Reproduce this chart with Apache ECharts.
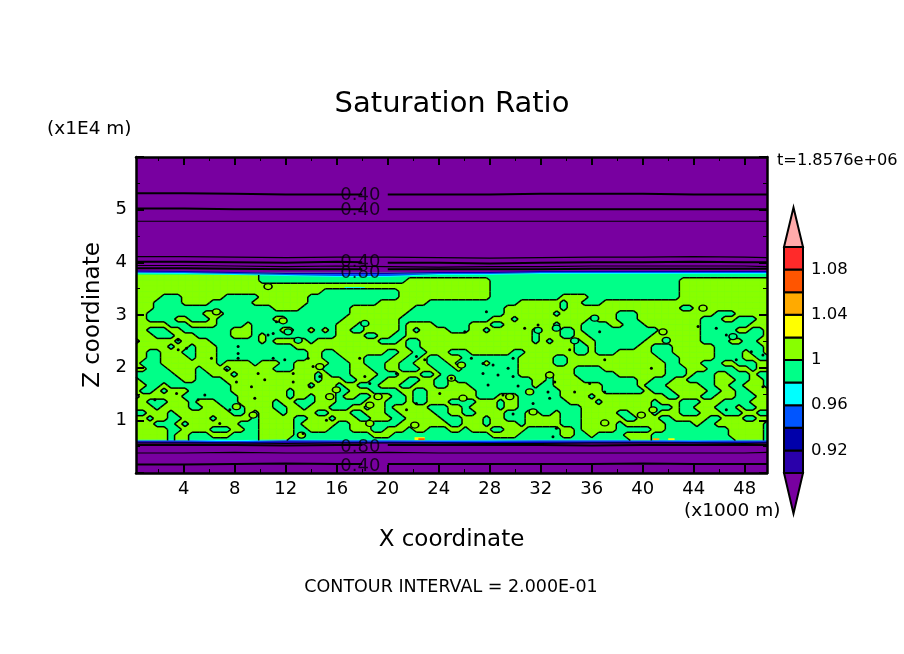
<!DOCTYPE html>
<html>
<head>
<meta charset="utf-8">
<title>Saturation Ratio</title>
<script src="https://cdn.jsdelivr.net/npm/echarts@6/dist/echarts.min.js"></script>
<style>
html, body { margin: 0; padding: 0; background: #fff; }
#chart { width: 904px; height: 654px; }
</style>
</head>
<body>
<div id="chart"></div>
<script>
// axis values
const xMajorTicks = [4, 8, 12, 16, 20, 24, 28, 32, 36, 40, 44, 48];
const xMinorTicks = [2, 6, 10, 14, 18, 22, 26, 30, 34, 38, 42, 46];
const xRange = [0.25, 49.75];
const zRange = [0, 6];

// colour bar
const levelEdges = [0.90, 0.92, 0.94, 0.96, 0.98, 1.00, 1.02, 1.04, 1.06, 1.08, 1.10];
const levelColors = ['#2a00aa', '#0000aa', '#0055ff', '#00ffff', '#00ff88', '#88ff00', '#ffff00', '#ffaa00', '#ff5500', '#ff2a2a'];
const colorbarLabels = [0.92, 0.96, 1, 1.04, 1.08];
const underColor = '#7800a0';
const overColor = '#ffaaaa';
const overTip = 1.135;
const underTip = 0.864;

// the wet layer: each row reads alternately cells above 1 and cells below 1, left to right, top to bottom
const fieldTopZ = 3.76;
const fieldBottomZ = 0.617;
const fieldCols = 90;
const fieldRuns = [
    [18, 73],
    [18, 21, 12, 27, 13],
    [51, 27, 13],
    [27, 11, 13, 27, 13],
    [4, 3, 6, 5, 7, 13, 13, 10, 4, 13, 13],
    [3, 4, 4, 6, 8, 10, 7, 13, 6, 1, 2, 3, 24],
    [3, 17, 4, 7, 9, 13, 8, 1, 16, 2, 11],
    [2, 8, 3, 18, 8, 14, 7, 1, 8, 3, 11, 3, 5],
    [2, 4, 2, 3, 1, 8, 2, 8, 8, 13, 3, 1, 10, 1, 3, 3, 9, 3, 2, 3, 2],
    [5, 3, 4, 4, 1, 12, 3, 1, 5, 1, 4, 5, 3, 2, 7, 1, 3, 4, 2, 3, 8, 7, 3],
    [2, 3, 2, 7, 3, 4, 2, 2, 1, 1, 1, 1, 2, 2, 5, 1, 1, 1, 4, 3, 2, 1, 6, 1, 3, 2, 1, 11, 6, 5, 2, 2, 1],
    [3, 3, 3, 5, 3, 1, 1, 10, 4, 2, 2, 2, 18, 1, 3, 2, 2, 9, 7, 9, 1],
    [0, 1, 5, 1, 4, 7, 1, 1, 5, 1, 9, 3, 1, 2, 16, 1, 1, 1, 3, 1, 2, 7, 8, 4, 2, 2, 2],
    [5, 1, 2, 1, 3, 11, 16, 2, 22, 2, 1, 6, 2, 3, 6, 7, 1],
    [2, 2, 3, 2, 3, 13, 2, 2, 7, 2, 2, 2, 3, 3, 6, 2, 7, 2, 1, 3, 5, 3, 6, 4, 1, 2, 1],
    [2, 2, 4, 1, 3, 13, 2, 3, 3, 4, 2, 2, 1, 2, 3, 8, 5, 2, 13, 3, 5, 4, 2, 2],
    [1, 3, 8, 1, 4, 1, 3, 2, 5, 3, 2, 3, 2, 2, 2, 3, 1, 4, 1, 4, 5, 2, 14, 2, 3, 3, 2, 3, 2],
    [2, 3, 4, 1, 3, 1, 6, 3, 4, 4, 3, 2, 2, 3, 2, 3, 1, 8, 8, 4, 9, 3, 3, 4, 2, 1, 2],
    [0, 6, 3, 2, 3, 1, 11, 1, 1, 3, 4, 3, 3, 2, 1, 11, 4, 1, 3, 6, 7, 3, 1, 3, 2, 3, 1, 2],
    [1, 6, 2, 4, 13, 1, 3, 2, 2, 2, 3, 2, 2, 2, 1, 11, 2, 1, 4, 8, 2, 3, 2, 4, 3, 2, 2, 1],
    [2, 2, 1, 9, 11, 1, 3, 1, 2, 3, 3, 2, 3, 2, 3, 9, 1, 2, 7, 5, 1, 3, 5, 2, 2, 2, 3, 1],
    [1, 2, 1, 1, 3, 6, 8, 1, 6, 2, 3, 4, 2, 2, 7, 12, 6, 6, 1, 3, 5, 2, 2, 2, 3],
    [0, 1, 6, 8, 7, 1, 2, 1, 3, 1, 2, 2, 3, 2, 1, 2, 7, 3, 3, 6, 4, 1, 10, 2, 3, 2, 3, 3, 2],
    [2, 3, 3, 1, 3, 3, 5, 1, 2, 3, 3, 4, 3, 3, 1, 2, 3, 4, 3, 1, 2, 7, 4, 1, 7, 1, 3, 3, 3, 4, 3],
    [3, 1, 4, 2, 3, 3, 4, 2, 2, 1, 3, 3, 2, 1, 2, 1, 5, 3, 2, 1, 4, 1, 2, 9, 10, 3, 1, 2, 3, 3, 1, 2, 2],
    [0, 2, 3, 1, 8, 2, 1, 1, 3, 1, 4, 2, 3, 2, 3, 2, 5, 2, 2, 2, 4, 3, 2, 2, 1, 3, 5, 2, 3, 1, 3, 3, 3, 3, 2, 2],
    [2, 1, 2, 2, 4, 1, 5, 1, 5, 2, 3, 1, 3, 2, 3, 2, 5, 3, 3, 1, 2, 3, 5, 3, 6, 2, 3, 2, 5, 2, 3, 2, 2],
    [3, 3, 1, 1, 7, 3, 5, 1, 5, 2, 3, 4, 7, 2, 3, 1, 4, 1, 5, 3, 5, 1, 6, 4, 1, 2, 7, 1],
    [5, 2, 4, 3, 2, 2, 5, 2, 3, 3, 3, 2, 3, 1, 2, 3, 2, 1, 3, 2, 3, 5, 2, 1, 5, 5, 2, 9, 5, 1],
    [5, 1, 2, 3, 3, 4, 5, 11, 3, 14, 4, 6, 2, 2, 1, 4, 4, 11, 5, 1],
    [5, 1, 2, 10, 4, 49, 3, 12, 4, 1]
];

// tiny closed contours too small for the field rows
const dotX = [3.56, 4.21, 8.26, 8.26, 3.56, 11.01, 10.61, 9.83, 7.35, 10.35, 9.31, 8.13, 6.17, 12.58, 12.58, 13.88, 18.59, 18.2, 17.8, 8.26, 14.14, 13.75, 14.67, 9.57, 7.61, 21.47, 22.25, 22.25, 22.9, 5.12, 1.73, 3.43, 5.65, 15.19, 13.36, 6.82, 24.99, 24.08, 20.68, 11.01, 11.92, 11.27,
    27.74, 31.79, 30.74, 26.04, 26.56, 28.26, 29.44, 29.83, 27.47, 28.65, 27.87, 30.22, 29.04, 32.57, 32.7, 31.4, 29.83, 33.23, 32.96, 37.02, 36.62, 34.27, 33.1, 34.66, 35.84, 37.02, 40.68, 44.34, 45.77, 46.56, 48.52, 49.43, 47.34, 49.43, 46.56, 29.83, 27.47];
const dotZ = [2.525, 2.37, 2.4, 2.27, 2.34, 2.65, 2.62, 1.89, 1.96, 1.77, 1.64, 1.73, 2.18, 1.89, 1.73, 1.64, 1.7, 1.83, 2.18, 2.18, 2.02, 2.18, 1.83, 1.42, 1.2, 1.2, 1.32, 2.21, 2.15, 1.39, 1.39, 1.51, 1.48, 1.0, 0.75, 0.94, 1.8, 1.51, 1.89, 2.18, 2.15, 2.87,
    3.06, 2.81, 2.75, 2.68, 2.18, 2.05, 1.99, 1.83, 2.08, 1.86, 1.67, 1.65, 1.48, 1.54, 1.42, 1.32, 1.12, 0.85, 0.69, 2.15, 2.68, 2.34, 1.73, 1.54, 1.7, 1.54, 1.99, 2.78, 2.75, 2.62, 2.3, 2.24, 2.15, 1.64, 1.2, 2.18, 1.89];
const limeBlobX = [11.79, 6.56, 10.61, 14.67, 15.97, 13.23, 18.59, 18.59, 19.24, 22.12, 15.45, 9.44, 8.13, 25.78, 24.99, 32.7, 31.13, 29.57, 25.9, 31.4, 37.02, 39.89, 40.81, 41.59, 44.73];
const limeBlobZ = [2.89, 3.06, 3.54, 2.02, 1.58, 0.72, 1.29, 0.94, 1.45, 0.91, 1.45, 1.1, 1.26, 2.05, 1.8, 1.86, 1.54, 1.45, 1.42, 1.16, 0.95, 1.1, 1.2, 2.68, 3.13];
const springBlobX = [12.97, 12.18, 18.2, 31.79, 33.23, 34.66, 36.23, 41.85, 47.08];
const springBlobZ = [2.52, 2.68, 2.84, 2.71, 2.75, 2.51, 2.94, 2.52, 2.59];

// thin colour steps at the top and bottom of the wet layer
const bandX = [0.25, 4, 8, 12, 16, 20, 24, 28, 32, 36, 40, 44, 48, 49.75];
const topIndigoZ = [3.845, 3.835, 3.816, 3.797, 3.797, 3.797, 3.816, 3.816, 3.835, 3.835, 3.835, 3.835, 3.835, 3.835];
const topBlueZ = [3.826, 3.816, 3.797, 3.778, 3.778, 3.778, 3.797, 3.797, 3.816, 3.816, 3.816, 3.816, 3.816, 3.816];
const topCyanZ = [3.807, 3.797, 3.778, 3.759, 3.74, 3.74, 3.778, 3.778, 3.797, 3.797, 3.797, 3.797, 3.797, 3.797];
const topGreenZ = [3.787, 3.777, 3.758, 3.739, 3.72, 3.72, 3.758, 3.758, 3.777, 3.777, 3.777, 3.777, 3.777, 3.777];
const bottomGreenZ = [0.63, 0.63, 0.625, 0.635, 0.63, 0.63, 0.625, 0.625, 0.63, 0.63, 0.63, 0.625, 0.63, 0.63];
const bottomCyanZ = [0.615, 0.615, 0.605, 0.62, 0.615, 0.615, 0.61, 0.61, 0.615, 0.615, 0.615, 0.61, 0.615, 0.615];
const bottomBlueZ = [0.6, 0.595, 0.585, 0.6, 0.595, 0.595, 0.59, 0.59, 0.595, 0.595, 0.595, 0.59, 0.595, 0.595];
const bottomIndigoZ = [0.575, 0.57, 0.56, 0.575, 0.57, 0.57, 0.565, 0.565, 0.57, 0.57, 0.57, 0.565, 0.57, 0.57];

// small spots away from the two main levels
const spotStartX = [22.1, 22.4, 40.8, 42, 16.6];
const spotEndX = [22.9, 22.9, 41.3, 42.5, 18.2];
const spotTopZ = [0.68, 0.66, 0.66, 0.66, 3.53];
const spotBottomZ = [0.625, 0.625, 0.625, 0.625, 3.49];
const spotLevel = [6, 8, 7, 6, 3];

// horizontal contours in the dry air above and below
const contourX = [0.25, 4, 8, 12, 16, 20, 24, 28, 32, 36, 40, 44, 48, 49.75];
const contourLines = [
    [5.31, 5.3, 5.29, 5.29, 5.29, 5.29, 5.29, 5.3, 5.3, 5.3, 5.29, 5.29, 5.29, 5.29],
    [5.02, 5.01, 5.01, 5.01, 5.01, 5.01, 5.01, 5.01, 5.01, 5.01, 5.01, 5.01, 5.01, 5.01],
    [4.78, 4.78, 4.78, 4.78, 4.78, 4.78, 4.78, 4.78, 4.78, 4.78, 4.78, 4.78, 4.78, 4.78],
    [4.11, 4.1, 4.09, 4.1, 4.1, 4.09, 4.08, 4.09, 4.1, 4.1, 4.11, 4.1, 4.09, 4.1],
    [4.01, 4, 3.99, 4.01, 4, 3.99, 3.98, 3.99, 4, 4, 4.01, 4, 4, 4],
    [3.94, 3.93, 3.92, 3.93, 3.92, 3.91, 3.92, 3.92, 3.93, 3.93, 3.93, 3.93, 3.92, 3.93],
    [3.89, 3.88, 3.87, 3.87, 3.87, 3.87, 3.87, 3.87, 3.88, 3.88, 3.88, 3.88, 3.88, 3.88],
    [0.57, 0.57, 0.56, 0.57, 0.57, 0.57, 0.56, 0.56, 0.57, 0.57, 0.57, 0.56, 0.57, 0.57],
    [0.53, 0.53, 0.52, 0.53, 0.53, 0.53, 0.53, 0.53, 0.52, 0.53, 0.53, 0.53, 0.53, 0.53],
    [0.38, 0.39, 0.38, 0.38, 0.39, 0.38, 0.38, 0.38, 0.38, 0.38, 0.38, 0.38, 0.39, 0.38],
    [0.16, 0.17, 0.18, 0.17, 0.17, 0.17, 0.17, 0.17, 0.17, 0.18, 0.17, 0.17, 0.17, 0.17]
];
const contourHeavy = [true, true, false, false, true, false, true, false, true, false, true];
const contourLabelZ = [5.28, 4.99, 4.0, 3.8, 0.49, 0.12];
const contourLabelText = ['0.40', '0.40', '0.40', '0.80', '0.80', '0.40'];
const contourLabelX = 17.85;

// node values of the wet layer, expanded from the runs
function buildField() {
    let field = [];
    fieldRuns.forEach(function (runs) {
        let row = [];
        runs.forEach(function (len, i) {
            for (let k = 0; k < len; k++) row.push(i % 2 == 0 ? 1.01 : 0.99);
        });
        while (row.length <= fieldCols) row.push(row[row.length - 1]);
        field.push(row);
    });
    return field;
}

const field = buildField();
const fieldRows = field.length - 1;
const cells = [];
for (let r = 0; r < fieldRows; r++) {
    for (let c = 0; c < fieldCols; c++) cells.push([c, r]);
}

function nodeX(c) {
    return xRange[0] + c * (xRange[1] - xRange[0]) / fieldCols;
}
function nodeZ(r) {
    return fieldTopZ - r * (fieldTopZ - fieldBottomZ) / fieldRows;
}

// marching squares on one cell, returns corners in screen coordinates
function cellShape(api) {
    let c = api.value(0), r = api.value(1);
    let a = field[r][c] > 1, b = field[r][c + 1] > 1, d = field[r + 1][c + 1] > 1, e = field[r + 1][c] > 1;
    let x0 = nodeX(c), x1 = nodeX(c + 1), xm = (x0 + x1) / 2;
    let z0 = nodeZ(r), z1 = nodeZ(r + 1), zm = (z0 + z1) / 2;
    return {
        a: a, b: b, d: d, e: e,
        tl: api.coord([x0, z0]), tr: api.coord([x1, z0]), br: api.coord([x1, z1]), bl: api.coord([x0, z1]),
        t: api.coord([xm, z0]), rr: api.coord([x1, zm]), bt: api.coord([xm, z1]), l: api.coord([x0, zm])
    };
}

function renderLimeCell(params, api) {
    let s = cellShape(api);
    let pts = [];
    if (s.a) pts.push(s.tl);
    if (s.a != s.b) pts.push(s.t);
    if (s.b) pts.push(s.tr);
    if (s.b != s.d) pts.push(s.rr);
    if (s.d) pts.push(s.br);
    if (s.d != s.e) pts.push(s.bt);
    if (s.e) pts.push(s.bl);
    if (s.e != s.a) pts.push(s.l);
    if (pts.length < 3) return null;
    return {
        type: 'polygon',
        shape: { points: pts },
        style: { fill: levelColors[5], stroke: levelColors[5], lineWidth: 0.6 }
    };
}

function renderContourCell(params, api) {
    let s = cellShape(api);
    let mids = [];
    if (s.a != s.b) mids.push(s.t);
    if (s.b != s.d) mids.push(s.rr);
    if (s.d != s.e) mids.push(s.bt);
    if (s.e != s.a) mids.push(s.l);
    if (mids.length < 2) return null;
    let segs = mids.length == 2 ? [[mids[0], mids[1]]]
        : s.a ? [[s.t, s.rr], [s.bt, s.l]] : [[s.t, s.l], [s.rr, s.bt]];
    return {
        type: 'group',
        children: segs.map(function (seg) {
            return {
                type: 'line',
                shape: { x1: seg[0][0], y1: seg[0][1], x2: seg[1][0], y2: seg[1][1] },
                style: { stroke: '#000', lineWidth: 1.5 }
            };
        })
    };
}

// polygon between two z profiles
function bandSeries(upper, lower, color) {
    return {
        type: 'custom',
        coordinateSystem: 'cartesian2d',
        data: [0],
        renderItem: function (params, api) {
            let pts = [];
            bandX.forEach(function (x, i) { pts.push(api.coord([x, upper[i]])); });
            for (let i = bandX.length - 1; i >= 0; i--) pts.push(api.coord([bandX[i], lower[i]]));
            return { type: 'polygon', shape: { points: pts }, style: { fill: color } };
        }
    };
}

function blobSeries(xs, zs, color) {
    return {
        type: 'scatter',
        symbolSize: [8, 6],
        data: xs.map(function (x, i) { return [x, zs[i]]; }),
        itemStyle: { color: color, borderColor: '#000', borderWidth: 1.4, opacity: 1 }
    };
}

function contourSeries() {
    return contourLines.map(function (zs, n) {
        let pts = [];
        contourX.forEach(function (x, i) {
            pts.push([x, zs[i]]);
            if (contourHeavy[n] && x == 16) pts.push([18, null]);
        });
        return {
            type: 'line',
            step: 'end',
            symbol: 'none',
            connectNulls: false,
            data: pts,
            lineStyle: { color: '#000', width: contourHeavy[n] ? 2 : 1.2 }
        };
    });
}

const axisFont = { fontFamily: 'DejaVu Sans', fontSize: 18, color: '#000' };

function xAxisOption(position, ticks, length, width, showLine, showLabel) {
    return {
        type: 'value',
        position: position,
        min: xRange[0],
        max: xRange[1],
        z: 10,
        splitLine: { show: false },
        axisLine: { show: showLine, onZero: false, lineStyle: { color: '#000', width: 2.5 } },
        axisTick: { inside: true, length: length, customValues: ticks, lineStyle: { color: '#000', width: width } },
        axisLabel: Object.assign({ show: showLabel, customValues: ticks, margin: 7 }, axisFont)
    };
}

function zAxisOption(position, showLabel) {
    return {
        type: 'value',
        position: position,
        min: zRange[0],
        max: zRange[1],
        interval: 1,
        z: 10,
        splitLine: { show: false },
        axisLine: { show: true, onZero: false, lineStyle: { color: '#000', width: 2.5 } },
        axisTick: { inside: true, length: 8, lineStyle: { color: '#000', width: 2 } },
        minorTick: { show: true, splitNumber: 2, length: 4, lineStyle: { color: '#000', width: 1 } },
        axisLabel: Object.assign({
            show: showLabel,
            margin: 9,
            formatter: function (v) { return v > 0 && v < 6 ? String(v) : ''; }
        }, axisFont)
    };
}

const bottomAxis = xAxisOption('bottom', xMajorTicks, 8, 2, true, true);
bottomAxis.name = 'X coordinate';
bottomAxis.nameLocation = 'middle';
bottomAxis.nameGap = 56;
bottomAxis.nameTextStyle = { fontFamily: 'DejaVu Sans', fontSize: 23, color: '#000' };

const leftAxis = zAxisOption('left', true);
leftAxis.name = 'Z coordinate';
leftAxis.nameLocation = 'middle';
leftAxis.nameGap = 31;
leftAxis.nameTextStyle = { fontFamily: 'DejaVu Sans', fontSize: 23, color: '#000' };

function plainText(text, x, y, size, align) {
    return {
        type: 'text',
        x: x,
        y: y,
        style: {
            text: text,
            fontFamily: 'DejaVu Sans',
            fontSize: size,
            fill: '#000',
            align: align,
            verticalAlign: 'middle'
        }
    };
}

const option = {
    animation: false,
    backgroundColor: '#fff',
    graphic: [
        plainText('Saturation Ratio', 452, 104, 29, 'center'),
        plainText('(x1E4 m)', 47, 129, 18.5, 'left'),
        plainText('(x1000 m)', 684, 511, 18.5, 'left'),
        plainText('t=1.8576e+06', 777, 161, 16.2, 'left'),
        plainText('CONTOUR INTERVAL = 2.000E-01', 451, 587, 17.5, 'center')
    ],
    grid: [
        { left: 136, top: 157, width: 631, height: 316, show: true, backgroundColor: underColor, borderWidth: 0 },
        { left: 784, top: 247, width: 19, height: 226 }
    ],
    xAxis: [
        bottomAxis,
        xAxisOption('top', xMajorTicks, 8, 2, true, false),
        xAxisOption('bottom', xMinorTicks, 4, 1, false, false),
        xAxisOption('top', xMinorTicks, 4, 1, false, false),
        { gridIndex: 1, type: 'value', min: 0, max: 1, show: false }
    ],
    yAxis: [
        leftAxis,
        zAxisOption('right', false),
        {
            gridIndex: 1,
            type: 'value',
            position: 'right',
            min: 0.9,
            max: 1.1,
            interval: 0.02,
            splitLine: { show: false },
            axisLine: { show: false },
            axisTick: { show: false },
            axisLabel: {
                margin: 8,
                fontFamily: 'DejaVu Sans',
                fontSize: 16.5,
                color: '#000',
                formatter: function (v) {
                    let hit = colorbarLabels.find(function (t) { return Math.abs(t - v) < 1e-6; });
                    return hit === undefined ? '' : String(hit);
                }
            }
        }
    ],
    series: [
        // green base of the wet layer
        bandSeries(topIndigoZ.map(function () { return 3.8; }), topIndigoZ.map(function () { return fieldBottomZ; }), levelColors[4]),
        { type: 'custom', coordinateSystem: 'cartesian2d', data: cells, progressive: 0, renderItem: renderLimeCell },
        bandSeries(topCyanZ, topGreenZ, levelColors[3]),
        bandSeries(topBlueZ, topCyanZ, levelColors[2]),
        bandSeries(topIndigoZ, topBlueZ, levelColors[1]),
        bandSeries(bottomGreenZ, bottomCyanZ, levelColors[3]),
        bandSeries(bottomCyanZ, bottomBlueZ, levelColors[2]),
        bandSeries(bottomBlueZ, bottomIndigoZ, levelColors[1]),
        {
            type: 'custom',
            coordinateSystem: 'cartesian2d',
            data: spotLevel.map(function (v, i) { return i; }),
            renderItem: function (params, api) {
                let i = api.value(0);
                let p0 = api.coord([spotStartX[i], spotTopZ[i]]);
                let p1 = api.coord([spotEndX[i], spotBottomZ[i]]);
                return {
                    type: 'rect',
                    shape: { x: p0[0], y: p0[1], width: p1[0] - p0[0], height: p1[1] - p0[1] },
                    style: { fill: levelColors[spotLevel[i]] }
                };
            }
        },
        { type: 'custom', coordinateSystem: 'cartesian2d', data: cells, progressive: 0, renderItem: renderContourCell },
        blobSeries(limeBlobX, limeBlobZ, levelColors[5]),
        blobSeries(springBlobX, springBlobZ, levelColors[4]),
        {
            type: 'scatter',
            symbolSize: 3,
            data: dotX.map(function (x, i) { return [x, dotZ[i]]; }),
            itemStyle: { color: '#000', opacity: 1 }
        }
    ].concat(contourSeries()).concat([
        {
            type: 'scatter',
            symbolSize: 0,
            data: contourLabelZ.map(function (z, i) { return { value: [contourLabelX, z], label: { formatter: contourLabelText[i] } }; }),
            label: { show: true, position: 'inside', fontFamily: 'DejaVu Sans', fontSize: 18, color: '#000' }
        },
        // colour bar cells
        {
            type: 'custom',
            coordinateSystem: 'cartesian2d',
            xAxisIndex: 4,
            yAxisIndex: 2,
            data: levelColors.map(function (v, i) { return i; }),
            renderItem: function (params, api) {
                let i = api.value(0);
                let p0 = api.coord([0, levelEdges[i + 1]]);
                let p1 = api.coord([1, levelEdges[i]]);
                return {
                    type: 'rect',
                    shape: { x: p0[0], y: p0[1], width: p1[0] - p0[0], height: p1[1] - p0[1] },
                    style: { fill: levelColors[i], stroke: '#000', lineWidth: 2 }
                };
            }
        },
        // colour bar arrow heads
        {
            type: 'custom',
            coordinateSystem: 'cartesian2d',
            xAxisIndex: 4,
            yAxisIndex: 2,
            clip: false,
            data: [0, 1],
            renderItem: function (params, api) {
                let over = api.value(0) == 0;
                let base = over ? 1.1 : 0.9;
                let tip = over ? overTip : underTip;
                return {
                    type: 'polygon',
                    shape: { points: [api.coord([0, base]), api.coord([0.5, tip]), api.coord([1, base])] },
                    style: { fill: over ? overColor : underColor, stroke: '#000', lineWidth: 2 }
                };
            }
        }
    ])
};

const chart = echarts.init(document.getElementById('chart'));
chart.setOption(option);
</script>
</body>
</html>
